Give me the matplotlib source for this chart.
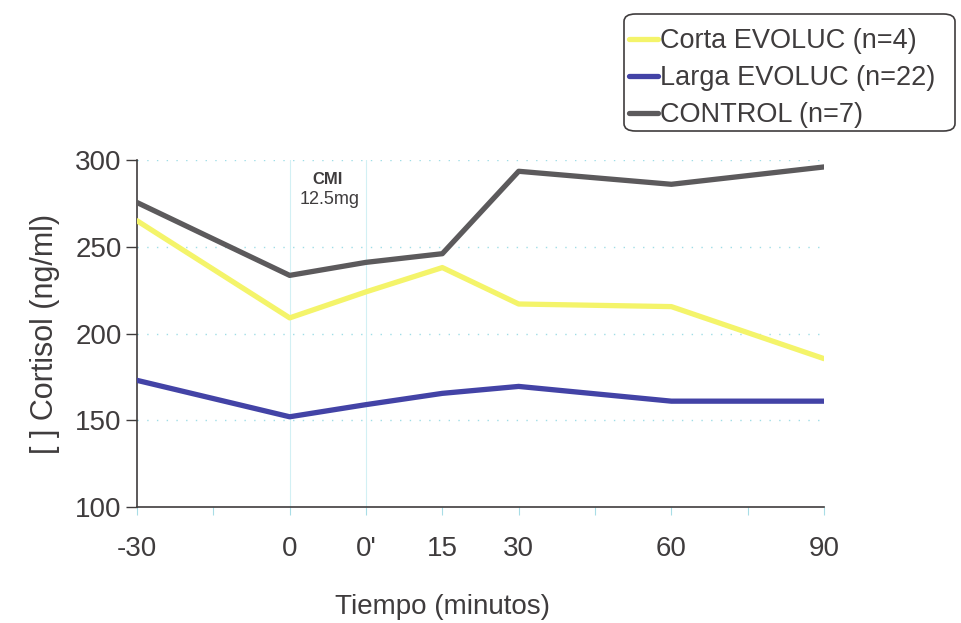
import matplotlib
matplotlib.use("Agg")
from matplotlib import pyplot as plt
from matplotlib.patches import FancyBboxPatch

# posiciones en el eje (espaciado del original) y etiquetas
posiciones = [0, 2, 3, 4, 5, 7, 9]
etiquetas = ['-30', '0', "0'", '15', '30', '60', '90']

corta = [265, 209, 224, 238, 217, 215.5, 185.5]
larga = [173, 152, 159, 165.5, 169.5, 161, 161]
control = [275.5, 233.5, 241, 246, 293.5, 286, 296]

nombres = ['Corta EVOLUC (n=4)', 'Larga EVOLUC (n=22)', 'CONTROL (n=7)']
colores = ['#f4f46a', '#4343a6', '#5c5a5c']
series = [corta, larga, control]

gris = '#3f3c3d'
plt.rcParams['font.family'] = ['Liberation Sans', 'DejaVu Sans']

fig = plt.figure(figsize=(9.62, 6.23), dpi=100)
ax = fig.add_axes([137 / 962, 1 - 507 / 623, (824 - 137) / 962, (507 - 160) / 623])

# lineas de referencia
for yv in [150, 200, 250, 300]:
    ax.axhline(yv, color='#9fdde6', lw=1.0, ls=(0, (1, 6)), zorder=1)
for xv in [2, 3]:
    ax.axvline(xv, color='#d2f0f4', lw=0.8, zorder=1)

for s, c, n in zip(series, colores, nombres):
    ax.plot(posiciones, s, color=c, lw=3.8, label=n, zorder=3,
            solid_capstyle='round')

ax.set_xlim(0, 9)
ax.set_ylim(100, 300)
ax.set_yticks([100, 150, 200, 250, 300])
ax.set_xticks(range(10))
ax.set_xticklabels([etiquetas[posiciones.index(i)] if i in posiciones else ''
                    for i in range(10)])
ax.tick_params(axis='y', labelsize=20, colors=gris, length=8, width=1.0,
               pad=3, labelcolor=gris)
ax.tick_params(axis='x', labelsize=20, length=6, width=0.8, color='#a8dde6',
               pad=15, labelcolor=gris)

for side in ['top', 'right']:
    ax.spines[side].set_visible(False)
ax.spines['left'].set_color(gris)
ax.spines['bottom'].set_color(gris)
ax.spines['left'].set_linewidth(1.2)
ax.spines['bottom'].set_linewidth(1.2)

ax.set_ylabel('[ ] Cortisol (ng/ml)', fontsize=22, color=gris)
ax.yaxis.set_label_coords(-0.112, 0.5)
ax.set_xlabel('Tiempo (minutos)', fontsize=20, color=gris)
ax.xaxis.set_label_coords(0.445, -0.25)

ax.text(2.5, 286, 'CMI', fontsize=12, color=gris, fontweight='bold', ha='center')
ax.text(2.53, 274.5, '12.5mg', fontsize=13, color=gris, ha='center')

# leyenda con caja redondeada
caja = FancyBboxPatch((624 / 962, 1 - 131 / 623), (955 - 624) / 962, (131 - 14) / 623,
                      boxstyle='round,pad=0,rounding_size=0.012',
                      transform=fig.transFigure, fc='white', ec=gris, lw=1.2)
fig.patches.append(caja)
leg = fig.legend(loc='upper left', bbox_to_anchor=(609 / 962, 1 - 8 / 623),
                 frameon=False, fontsize=19.5, handlelength=1.05, handletextpad=0.08,
                 labelspacing=0.4, borderpad=0.25)
for t in leg.get_texts():
    t.set_color(gris)

fig.savefig('out.png', dpi=100)
